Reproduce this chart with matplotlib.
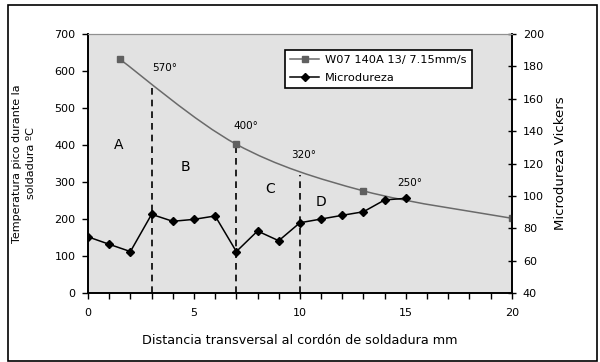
import matplotlib
matplotlib.use('Agg')
import matplotlib.pyplot as plt
from matplotlib.path import Path
from matplotlib.patches import PathPatch, Rectangle
from matplotlib.lines import Line2D

plt.rcParams['font.family'] = ['DejaVu Sans']

# temperatura pico (eje izquierdo)
temp_x = [1.5, 7, 13, 20]
temp_y = [632, 402, 276, 202]

# microdureza Vickers (eje derecho)
hard_x = [0, 1, 2, 3, 4, 5, 6, 7, 8, 9, 10, 11, 12, 13, 14, 15]
hard_y = [74.7, 70.1, 65.6, 88.6, 84.3, 85.5, 87.6, 65.6, 78.3, 72.3,
          83.4, 85.7, 88.0, 90.2, 97.5, 98.5]

# divisiones de zonas
zone_x = [3, 7, 10]
zone_top = [558, 402, 318]
zone_names = ['A', 'B', 'C', 'D']
zone_name_x = [1.45, 4.6, 8.6, 11.0]
zone_name_y = [400, 340, 281, 246]

peak_labels = ['570°', '400°', '320°', '250°']
peak_x = [3.6, 7.45, 10.2, 15.2]
peak_y = [608, 451, 373, 296]

legend_labels = ['W07 140A 13/ 7.15mm/s', 'Microdureza']

fig = plt.figure(figsize=(6, 3.62), dpi=100)
fig.patches.append(Rectangle((0.013, 0.003), 0.982, 0.983, transform=fig.transFigure,
                             fill=False, edgecolor='black', linewidth=1.2))

ax = fig.add_axes([0.1467, 0.1906, 0.7063, 0.7154])
ax.set_facecolor('#e2e2e2')
ax2 = ax.twinx()

# curva suavizada (bezier tipo Excel)
pts = list(zip(temp_x, temp_y))
verts = [pts[0]]
codes = [Path.MOVETO]
for i in range(len(pts) - 1):
    p0 = pts[i - 1] if i > 0 else pts[i]
    p1 = pts[i]
    p2 = pts[i + 1]
    p3 = pts[i + 2] if i + 2 < len(pts) else pts[i + 1]
    c1 = (p1[0] + (p2[0] - p0[0]) / 6, p1[1] + (p2[1] - p0[1]) / 6)
    c2 = (p2[0] - (p3[0] - p1[0]) / 6, p2[1] - (p3[1] - p1[1]) / 6)
    verts += [c1, c2, p2]
    codes += [Path.CURVE4] * 3
ax.add_patch(PathPatch(Path(verts, codes), facecolor='none', edgecolor='#6a6a6a',
                       linewidth=1.1, zorder=3))
ax.plot(temp_x, temp_y, linestyle='none', marker='s', markersize=5,
        color='#606060', zorder=4)

for zx, zt in zip(zone_x, zone_top):
    ax.plot([zx, zx], [0, zt], color='black', linestyle=(0, (4, 3)), linewidth=1.2, zorder=2)

for n, x, y in zip(zone_names, zone_name_x, zone_name_y):
    ax.text(x, y, n, fontsize=10, ha='center', va='center')
for t, x, y in zip(peak_labels, peak_x, peak_y):
    ax.text(x, y, t, fontsize=7.5, ha='center', va='center')

ax2.plot(hard_x, hard_y, color='black', marker='D', markersize=4.5, linewidth=1.1, zorder=5)

ax.set_xlim(0, 20)
ax.set_ylim(0, 700)
ax2.set_ylim(40, 200)
ax.set_xticks(range(0, 21, 5))
ax.set_xticks(range(0, 21), minor=True)
ax.set_yticks(range(0, 701, 100))
ax2.set_yticks(range(40, 201, 20))

ax.tick_params(axis='both', which='both', labelsize=8, length=4, width=1, direction='out')
ax.tick_params(axis='x', which='both', pad=7)
ax.tick_params(axis='y', pad=5)
ax2.tick_params(axis='y', labelsize=8, length=6, width=1, direction='inout', pad=5)

for a in (ax, ax2):
    a.spines['top'].set_color('#909090')
    a.spines['top'].set_linewidth(0.8)
    for s in ('left', 'bottom', 'right'):
        a.spines[s].set_linewidth(1.2)
    a.spines['right'].set_color('black')

ax.set_xlabel('Distancia transversal al cordón de soldadura mm', fontsize=9.2, labelpad=11)
ax.set_ylabel('Temperatura pico durante la\nsoldadura ºC', fontsize=8, labelpad=13,
              linespacing=1.5)
ax2.set_ylabel('Microdureza Vickers', fontsize=9.5, labelpad=7)

handles = [Line2D([], [], color='#6a6a6a', marker='s', markersize=5, markerfacecolor='#606060',
                  markeredgecolor='#606060', linewidth=1.1),
           Line2D([], [], color='black', marker='D', markersize=4.5, linewidth=1.1)]
leg = ax2.legend(handles, legend_labels, loc='upper left', bbox_to_anchor=(0.465, 0.878),
                 bbox_transform=fig.transFigure, fontsize=8.2, frameon=True, fancybox=False,
                 edgecolor='black', framealpha=1, borderpad=0.45, handlelength=2.6,
                 handletextpad=0.5, labelspacing=0.7)
leg.get_frame().set_linewidth(1.2)

fig.savefig('out.png', dpi=100)
